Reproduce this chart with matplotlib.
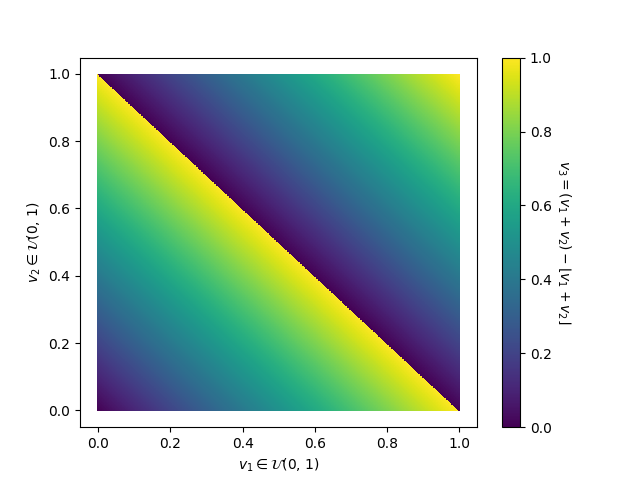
import matplotlib
matplotlib.use("Agg")
import matplotlib.pyplot as plt
import numpy as np

# sample grid over the unit square (upper bound just below 1)
v1_values = np.linspace(0, 0.998, 500)
v2_values = np.linspace(0, 0.998, 500)

v1, v2 = np.meshgrid(v1_values, v2_values)
v1 = v1.ravel()
v2 = v2.ravel()
v3 = (v1 + v2) - np.floor(v1 + v2)

fig, ax = plt.subplots(figsize=(6.4, 4.8), dpi=100)
sc = ax.scatter(v1, v2, c=v3, cmap='viridis', vmin=0, vmax=1, s=1.5, marker='s', linewidths=0)
cbar = fig.colorbar(sc, ax=ax)
cbar.set_label(r'$v_3 = (v_1 + v_2) - \lfloor v_1 + v_2 \rfloor$', rotation=270, labelpad=15)
ax.set_xlabel(r'$v_1 \in \mathcal{U}$(0, 1)')
ax.set_ylabel(r'$v_2 \in \mathcal{U}$(0, 1)')
fig.savefig("out.png")
